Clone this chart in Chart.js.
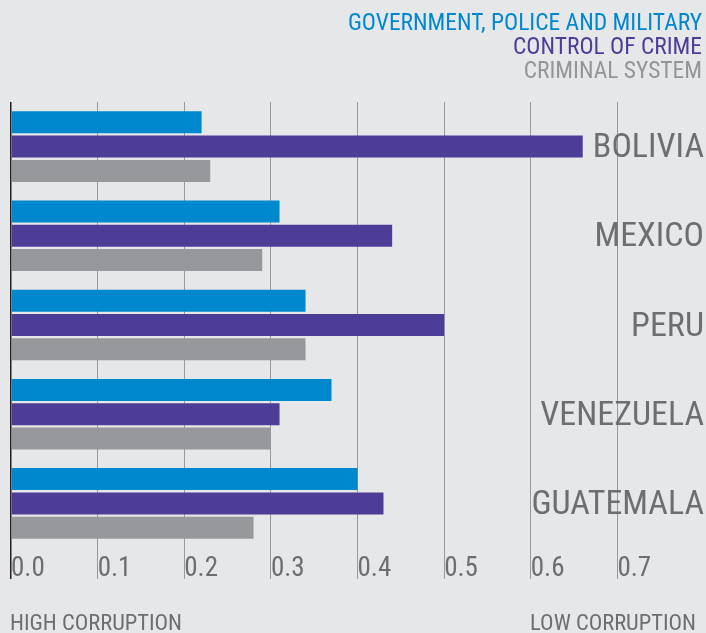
<!DOCTYPE html>
<html>
<head>
<meta charset="utf-8">
<script src="https://cdn.jsdelivr.net/npm/chart.js@4"></script>
<style>
  body { margin: 0; background: #e6e7e9; }
  #wrap { width: 706px; height: 633px; position: relative; }
</style>
</head>
<body>
<div id="wrap"><canvas id="chart"></canvas></div>
<script>
// data
const countries = ["BOLIVIA", "MEXICO", "PERU", "VENEZUELA", "GUATEMALA"];
const govPoliceMilitary = [0.22, 0.31, 0.34, 0.37, 0.40];
const controlOfCrime = [0.66, 0.44, 0.50, 0.31, 0.43];
const criminalSystem = [0.23, 0.29, 0.34, 0.30, 0.28];
const seriesNames = ["GOVERNMENT, POLICE AND MILITARY", "CONTROL OF CRIME", "CRIMINAL SYSTEM"];
const bottomLabels = ["HIGH CORRUPTION", "LOW CORRUPTION"];

const FONT = "'Roboto Condensed', 'Liberation Sans', sans-serif";
const TEXT_GRAY = "#6d6e71";
const seriesColors = ["#0088cf", "#4e3d96", "#97989b"];

// legend in the top right corner and the two end labels under the axis
const cornerText = {
  id: "cornerText",
  afterDraw(chart) {
    const ctx = chart.ctx;
    ctx.save();
    ctx.textAlign = "right";
    ctx.textBaseline = "alphabetic";
    ctx.font = "23.5px " + FONT;
    const baselines = [29.5, 53.5, 78];
    chart.data.datasets.forEach((ds, i) => {
      ctx.fillStyle = i === 2 ? "#939598" : ds.backgroundColor;
      ctx.fillText(ds.label, 702, baselines[i]);
    });

    ctx.font = "22.5px " + FONT;
    ctx.fillStyle = TEXT_GRAY;
    ctx.textAlign = "left";
    ctx.fillText(bottomLabels[0], 10, 629.5);
    ctx.textAlign = "right";
    ctx.fillText(bottomLabels[1], 696, 629.5);
    ctx.restore();
  }
};

const ctx = document.getElementById("chart").getContext("2d");
new Chart(ctx, {
  type: "bar",
  data: {
    labels: countries,
    datasets: [
      { label: seriesNames[0], data: govPoliceMilitary, backgroundColor: seriesColors[0] },
      { label: seriesNames[1], data: controlOfCrime, backgroundColor: seriesColors[1] },
      { label: seriesNames[2], data: criminalSystem, backgroundColor: seriesColors[2] }
    ]
  },
  options: {
    indexAxis: "y",
    responsive: true,
    maintainAspectRatio: false,
    animation: false,
    categoryPercentage: 0.817,
    barPercentage: 0.905,
    layout: { padding: { top: 102, left: 11, right: 2, bottom: 54 } },
    plugins: {
      legend: { display: false },
      title: { display: false },
      tooltip: { enabled: false }
    },
    scales: {
      x: {
        min: 0,
        max: 0.8,
        position: "bottom",
        border: { display: false },
        grid: {
          color: (c) => c.tick.value === 0 ? "#231f20" : (c.tick.value > 0.75 ? "rgba(0,0,0,0)" : "#98999c"),
          lineWidth: (c) => c.tick.value === 0 ? 1.5 : 1,
          drawTicks: true,
          tickLength: 31
        },
        ticks: {
          stepSize: 0.1,
          align: "start",
          padding: -26,
          maxRotation: 0,
          autoSkip: false,
          color: TEXT_GRAY,
          font: { family: FONT, size: 27 },
          callback: (v) => v > 0.75 ? "" : Number(v).toFixed(1)
        },
        afterFit: (scale) => { scale.height = 31; }
      },
      y: {
        position: "right",
        grid: { display: false, drawTicks: false },
        border: { display: false },
        ticks: {
          mirror: true,
          padding: 0,
          labelOffset: 2,
          z: -1,
          color: TEXT_GRAY,
          font: { family: FONT, size: 34 }
        }
      }
    }
  },
  plugins: [cornerText]
});
</script>
</body>
</html>
